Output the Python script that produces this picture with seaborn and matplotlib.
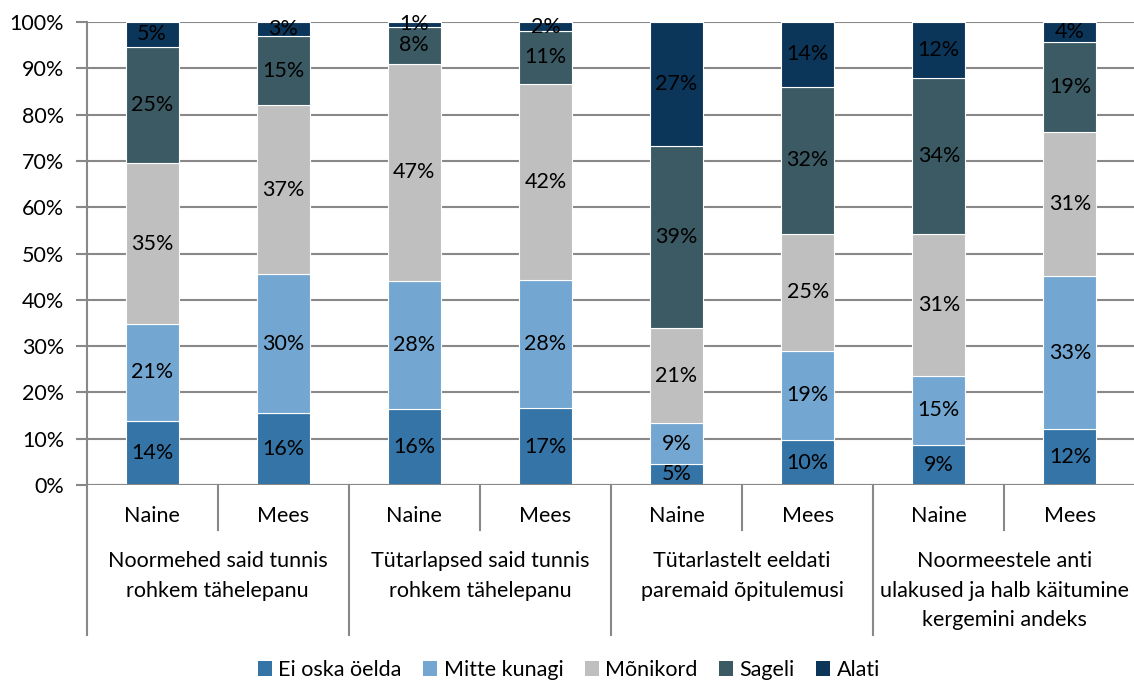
import matplotlib
matplotlib.use("Agg")
import matplotlib.pyplot as plt
import seaborn as sns
import numpy as np
import pandas as pd
from matplotlib.patches import Patch
from matplotlib.lines import Line2D

groups = ["Noormehed said tunnis\nrohkem tähelepanu",
          "Tütarlapsed said tunnis\nrohkem tähelepanu",
          "Tütarlastelt eeldati\nparemaid õpitulemusi",
          "Noormeestele anti\nulakused ja halb käitumine\nkergemini andeks"]
genders = ["Naine", "Mees"]
series = ["Ei oska öelda", "Mitte kunagi", "Mõnikord", "Sageli", "Alati"]

ei_oska = [13.8, 15.6, 16.4, 16.6, 4.6, 9.7, 8.6, 12.0]
mitte_kunagi = [21.0, 29.9, 27.7, 27.7, 8.7, 19.3, 15.0, 33.2]
monikord = [34.7, 36.6, 46.9, 42.4, 20.7, 25.2, 30.7, 31.1]
sageli = [25.2, 14.8, 8.0, 11.3, 39.3, 31.8, 33.6, 19.4]
alati = [5.3, 3.1, 1.0, 2.0, 26.7, 14.0, 12.1, 4.3]

colors = ["#3474a6", "#73a7d1", "#bfbfbf", "#3b5a64", "#0c355a"]

values = [ei_oska, mitte_kunagi, monikord, sageli, alati]

plt.rcParams['font.family'] = ['Lato', 'DejaVu Sans']
FS = 15.5
fig = plt.figure(figsize=(11.34, 6.81), dpi=100)
W, H = 1134, 681
ax = fig.add_axes([86.5 / W, 1 - 485 / H, 1049 / W, 463 / H])

cats = [f"{g}|{s}" for g in range(4) for s in genders]
bottom = np.zeros(8)
for name, vals, col in zip(series, values, colors):
    df = pd.DataFrame({"cat": cats, "val": vals})
    sns.barplot(data=df, x="cat", y="val", order=cats, color=col, bottom=bottom,
                width=0.405, ax=ax, edgecolor="white", linewidth=0.8, zorder=3,
                saturation=1)
    for i, v in enumerate(vals):
        ax.text(i, bottom[i] + v / 2, f"{int(round(v))}%", ha="center", va="center",
                fontsize=FS, color="black", zorder=5)
    bottom = bottom + np.array(vals)

ax.set_xlim(-0.5, 7.5)
ax.set_ylim(0, 100)
ax.set_yticks(np.arange(0, 101, 10))
ax.set_yticklabels([f"{t}%" for t in range(0, 101, 10)], fontsize=FS)
ax.yaxis.grid(True, color="#888888", linewidth=1.5, zorder=0)
ax.set_axisbelow(True)
ax.set_xticks([])
ax.set_xlabel("")
ax.set_ylabel("")
for s in ["top", "right", "bottom"]:
    ax.spines[s].set_visible(False)
ax.spines["left"].set_color("#888888")
ax.spines["left"].set_linewidth(1.5)
ax.tick_params(axis="y", length=8, color="#888888", width=1.5, pad=8)
ax.axhline(0, color="#888888", linewidth=1.5, zorder=4)

trans = ax.get_xaxis_transform()
def yfrac(py):
    return (485 - py) / 463.0

# sub-category labels
for i in range(8):
    ax.text(i, yfrac(516), genders[i % 2], ha="center", va="center", fontsize=FS,
            transform=trans, clip_on=False)
# separators
for g in range(4):
    x0 = 2 * g - 0.5
    ax.add_line(Line2D([x0, x0], [yfrac(485), yfrac(635)], color="#888888", lw=1.5,
                       transform=trans, clip_on=False))
    ax.add_line(Line2D([x0 + 1, x0 + 1], [yfrac(485), yfrac(530)], color="#888888", lw=1.5,
                       transform=trans, clip_on=False))
    ax.text(2 * g + 0.5, yfrac(551), groups[g], ha="center", va="top", fontsize=FS,
            linespacing=1.6, transform=trans, clip_on=False)

handles = [Patch(facecolor=c, edgecolor="none") for c in colors]
fig.legend(handles, series, loc="center", bbox_to_anchor=(569 / W, 1 - 670 / H), ncol=5,
           frameon=False, fontsize=FS, handlelength=0.65, handleheight=0.65,
           handletextpad=0.3, columnspacing=1.0)

fig.savefig("out.png", dpi=100)
